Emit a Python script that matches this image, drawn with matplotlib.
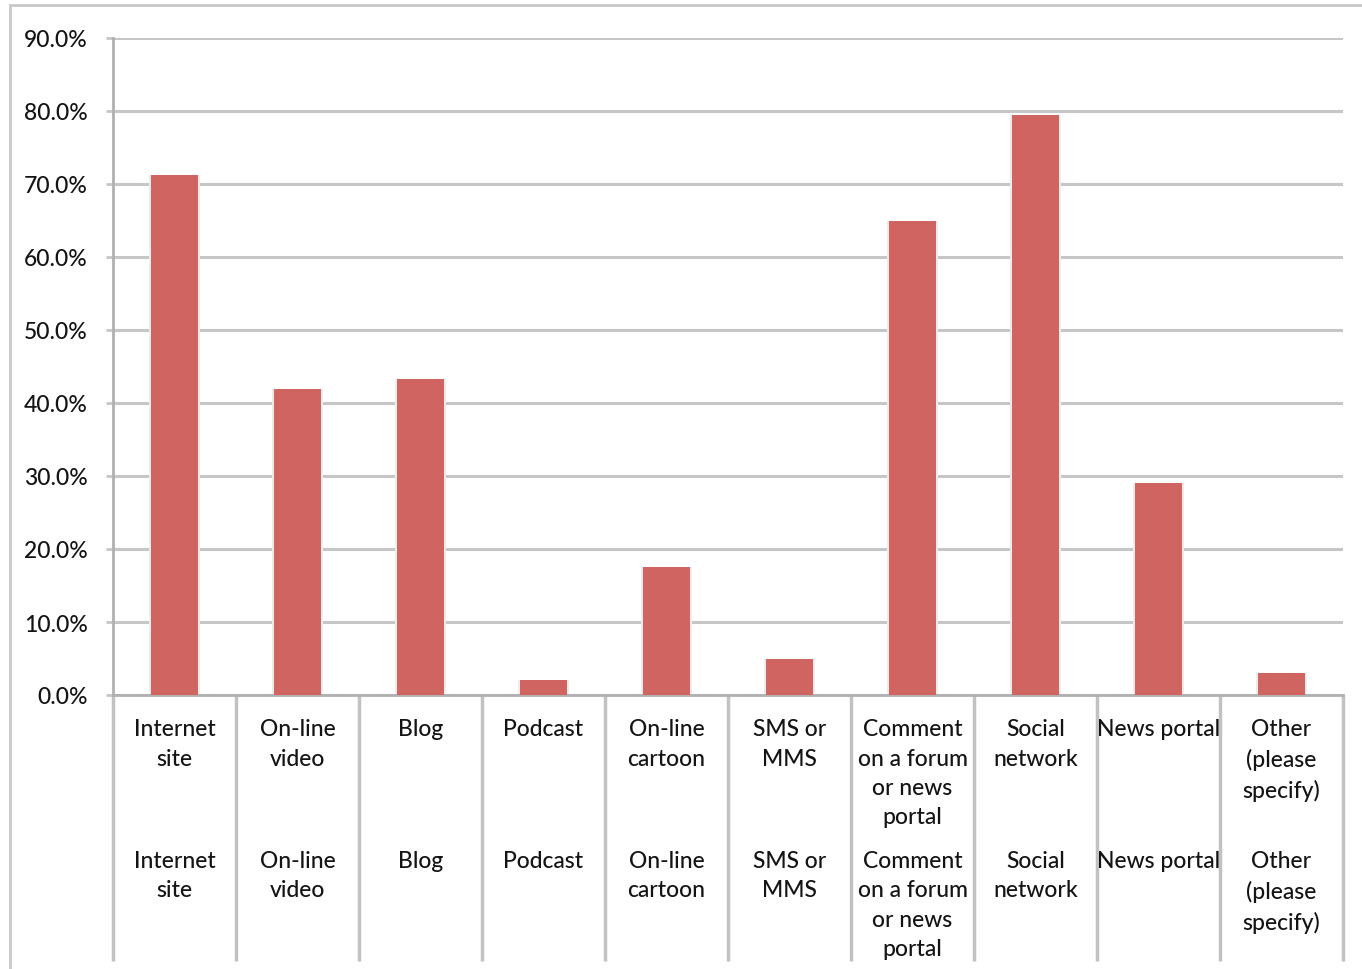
import matplotlib
matplotlib.use('Agg')
import matplotlib.pyplot as plt
from matplotlib import transforms
from matplotlib.patches import Rectangle

# data
categories = ['Internet\nsite', 'On-line\nvideo', 'Blog', 'Podcast', 'On-line\ncartoon',
              'SMS or\nMMS', 'Comment\non a forum\nor news\nportal', 'Social\nnetwork',
              'News portal', 'Other\n(please\nspecify)']
values = [71.2, 41.9, 43.3, 2.1, 17.5, 4.9, 64.9, 79.5, 29.0, 3.0]
yticks = [0, 10, 20, 30, 40, 50, 60, 70, 80, 90]

plt.rcParams['font.family'] = ['Lato', 'DejaVu Sans']

W, H = 1362, 970
fig = plt.figure(figsize=(W / 100, H / 100), dpi=100)
fig.patch.set_facecolor('white')

# outer chart frame (runs off the right and bottom edges)
fig.patches.append(Rectangle((10 / W, -0.1), 1.2, 1 - 6 / H + 0.1, transform=fig.transFigure,
                             fill=False, edgecolor='#c8c8c8', linewidth=2))

ax = fig.add_axes([113 / W, 1 - 696 / H, (1343 - 113) / W, (696 - 39) / H])

x = list(range(len(categories)))
grid_col = '#c6c6c6'
axis_col = '#b0b0b0'

# soft shadow behind bars, then bars
ax.bar(x, values, width=0.42, color='#ececec', zorder=2)
ax.bar(x, values, width=0.39, color='#cf6461', zorder=3)

ax.set_xlim(-0.5, len(categories) - 0.5)
ax.set_ylim(0, 90)
ax.set_yticks(yticks)
ax.set_yticklabels(['%.1f%%' % v for v in yticks], fontsize=16.5, color='#141414',
                   fontweight='medium')
ax.yaxis.grid(True, color=grid_col, linewidth=2.2, zorder=0)
ax.set_axisbelow(True)
ax.tick_params(axis='y', length=5, width=2, color=grid_col, pad=13)
ax.set_xticks([])

for s in ['top', 'right']:
    ax.spines[s].set_visible(False)
ax.spines['left'].set_color(axis_col)
ax.spines['left'].set_linewidth(2)
ax.spines['bottom'].set_color(axis_col)
ax.spines['bottom'].set_linewidth(2)

# two-level category axis: separators and labels below the plot
blend = transforms.blended_transform_factory(ax.transData, fig.transFigure)
for b in range(len(categories) + 1):
    ax.plot([b - 0.5, b - 0.5], [1 - 696 / H, 1 - 962 / H], transform=blend,
            color='#c2c2c2', linewidth=2.5, clip_on=False, solid_capstyle='butt')

for i, lab in enumerate(categories):
    for ytop in (719, 851):
        ax.text(i, 1 - ytop / H, lab, transform=blend, ha='center', va='top',
                fontsize=16.5, color='#141414', linespacing=1.5, fontweight='medium')

fig.savefig('out.png', dpi=100)
